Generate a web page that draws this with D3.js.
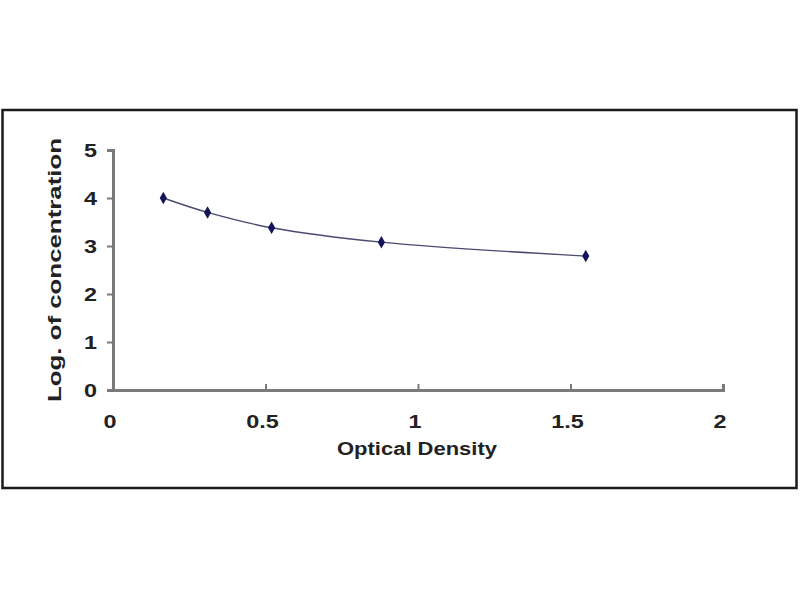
<!DOCTYPE html>
<html>
<head>
<meta charset="utf-8">
<script src="https://cdn.jsdelivr.net/npm/d3@7"></script>
<style>
  body { margin: 0; background: #fff; }
  text { font-family: Arial, "Liberation Sans", sans-serif; font-weight: bold; fill: #222; }
</style>
</head>
<body>
<div id="chart"></div>
<script>
// standard curve points
var opticalDensity = [0.165, 0.31, 0.52, 0.88, 1.55];
var logConcentration = [4.0, 3.7, 3.38, 3.08, 2.79];
var xTicks = [0, 0.5, 1, 1.5, 2];
var yTicks = [0, 1, 2, 3, 4, 5];

var width = 800, height = 600;

var svg = d3.select("#chart")
    .append("svg")
    .attr("width", width)
    .attr("height", height);

// outer frame
svg.append("rect")
    .attr("x", 2.5).attr("y", 110)
    .attr("width", 794).attr("height", 378)
    .style("fill", "#fff")
    .style("stroke", "#1a1a1a")
    .style("stroke-width", 2.5);

var xScale = d3.scaleLinear().domain([0, 2]).range([113, 723]);
var yScale = d3.scaleLinear().domain([0, 5]).range([390, 150]);

var xAxis = svg.append("g")
    .attr("transform", "translate(0," + yScale(0) + ")")
    .call(d3.axisTop(xScale).tickValues(xTicks).tickSize(6).tickFormat(""));

var yAxis = svg.append("g")
    .attr("transform", "translate(" + xScale(0) + ",0)")
    .call(d3.axisLeft(yScale).tickValues(yTicks).tickSize(6).tickFormat(""));

[xAxis, yAxis].forEach(function (a) {
    a.select(".domain").style("stroke", "#7a7a7a").style("stroke-width", 3);
    a.selectAll(".tick line").style("stroke", "#7a7a7a").style("stroke-width", 2);
});

// tick labels (glyphs a bit wider than plain Arial bold)
svg.selectAll(".xlab")
    .data(xTicks)
    .enter()
    .append("text")
    .attr("transform", function (d) {
        return "translate(" + (xScale(d) - 3) + ",428) scale(1.3,1)";
    })
    .attr("text-anchor", "middle")
    .style("font-size", "18px")
    .text(function (d) { return d; });

svg.selectAll(".ylab")
    .data(yTicks)
    .enter()
    .append("text")
    .attr("transform", function (d) {
        return "translate(97," + (yScale(d) + 6.5) + ") scale(1.3,1)";
    })
    .attr("text-anchor", "end")
    .style("font-size", "18px")
    .text(function (d) { return d; });

// axis titles
svg.append("text")
    .attr("x", 417).attr("y", 455)
    .attr("text-anchor", "middle")
    .attr("textLength", 160)
    .attr("lengthAdjust", "spacingAndGlyphs")
    .style("font-size", "18px")
    .text("Optical Density");

svg.append("text")
    .attr("transform", "translate(61,270) rotate(-90)")
    .attr("text-anchor", "middle")
    .attr("textLength", 264)
    .attr("lengthAdjust", "spacingAndGlyphs")
    .style("font-size", "18px")
    .text("Log. of concentration");

var pts = opticalDensity.map(function (d, i) { return [d, logConcentration[i]]; });

var line = d3.line()
    .x(function (d) { return xScale(d[0]); })
    .y(function (d) { return yScale(d[1]); })
    .curve(d3.curveCatmullRom);

svg.append("path")
    .datum(pts)
    .attr("d", line)
    .style("fill", "none")
    .style("stroke", "#4a4a72")
    .style("stroke-width", 1.4);

svg.selectAll(".pt")
    .data(pts)
    .enter()
    .append("path")
    .attr("d", d3.symbol().type(d3.symbolDiamond).size(45))
    .attr("transform", function (d) {
        return "translate(" + xScale(d[0]) + "," + yScale(d[1]) + ")";
    })
    .style("fill", "#14145a");
</script>
</body>
</html>
